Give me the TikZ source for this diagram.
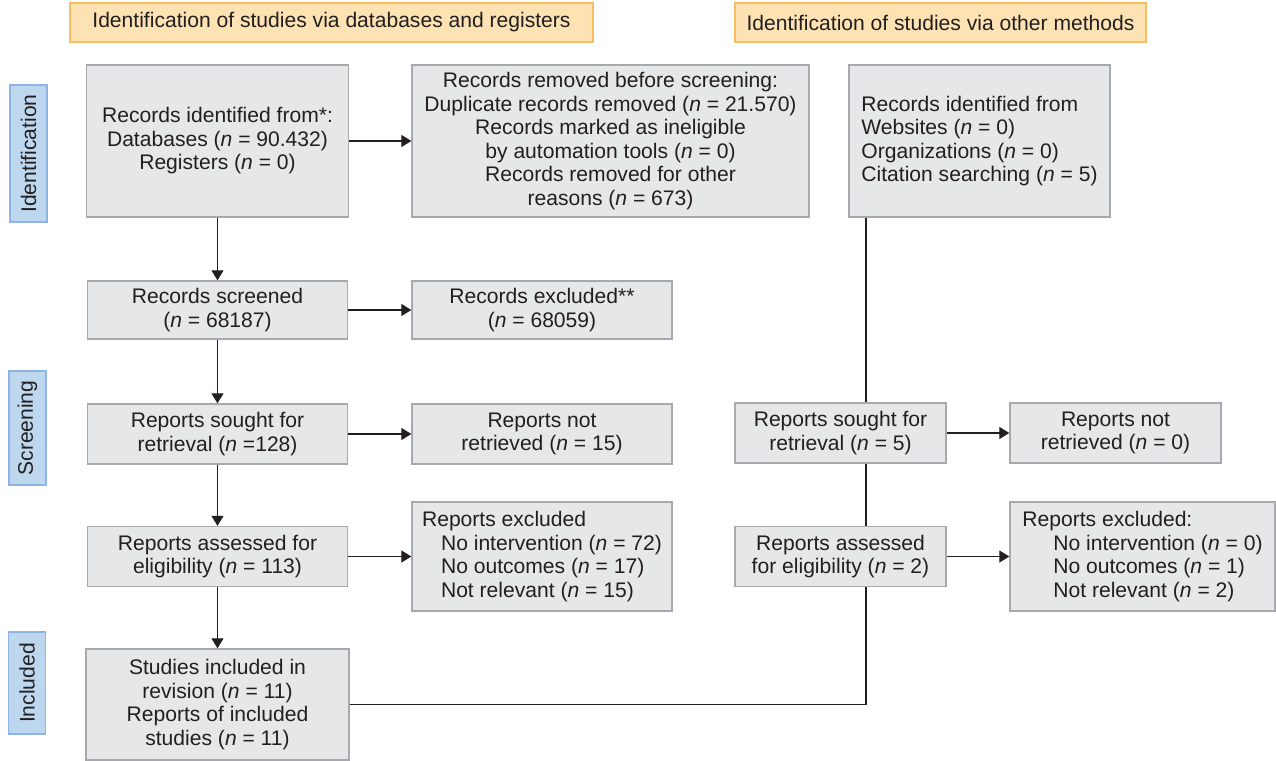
\documentclass[tikz,border=0pt]{standalone}
\usepackage{fontspec}
\setmainfont{Liberation Sans}
\usetikzlibrary{positioning}
\usetikzlibrary{arrows.meta}

\definecolor{boxgray}{HTML}{E6E7E8}
\definecolor{boxline}{HTML}{A7A9AC}
\definecolor{headfill}{HTML}{FDE2B3}
\definecolor{headline}{HTML}{F7BE5E}
\definecolor{sidefill}{HTML}{BDD7EE}
\definecolor{sideline}{HTML}{8DB4E2}
\definecolor{ink}{HTML}{231F20}

\begin{document}
\begin{tikzpicture}[x=0.02cm, y=-0.02cm,
  every node/.style={font=\fontsize{12}{13.4}\selectfont, text=ink},
  box/.style={draw=boxline, fill=boxgray, line width=0.8pt, inner sep=2pt, align=center},
  lbox/.style={box, align=left},
  head/.style={draw=headline, fill=headfill, line width=0.8pt, minimum height=0.78cm},
  side/.style={draw=sideline, fill=sidefill, line width=0.8pt, rotate=90, minimum height=0.74cm},
  arr/.style={draw=ink, line width=0.7pt, -{Triangle[length=0.2cm, width=0.24cm]}},
  link/.style={draw=ink, line width=0.7pt}]

  \useasboundingbox (0,0) rectangle (1276,761);

  % Headers and phase labels
  \node[head, minimum width=10.46cm] (hdb) at (331.5,22.5) {Identification of studies via databases and registers};
  \node[head, minimum width=8.22cm] (hother) at (940.5,22.5) {Identification of studies via other methods};

  \node[side, minimum width=2.74cm] (sident) at (28.5,153.5) {Identification};
  \node[side, minimum width=2.28cm] (sscreen) at (27.5,428) {Screening};
  \node[side, minimum width=2.04cm] (sincl) at (27,683) {Included};

  % Databases and registers
  \node[box, minimum width=5.24cm, minimum height=3.04cm] (ident) at (217.5,141)
    {Records identified from*:\\Databases (\textit{n} = 90.432)\\Registers (\textit{n} = 0)};
  \node[box, minimum width=7.94cm, minimum height=3.04cm] (removed) at (610.5,141)
    {Records removed before screening:\\Duplicate records removed (\textit{n} = 21.570)\\Records marked as ineligible\\by automation tools (\textit{n} = 0)\\Records removed for other\\reasons (\textit{n} = 673)};
  \node[box, minimum width=5.2cm, minimum height=1.16cm] (screened) at (217.5,310)
    {Records screened\\(\textit{n} = 68187)};
  \node[box, minimum width=5.2cm, minimum height=1.16cm] (excluded) at (542,310)
    {Records excluded**\\(\textit{n} = 68059)};
  \node[box, minimum width=5.2cm, minimum height=1.2cm] (sought) at (217.5,434)
    {Reports sought for\\retrieval (\textit{n} =128)};
  \node[box, minimum width=5.2cm, minimum height=1.2cm] (notret) at (542,434)
    {Reports not\\retrieved (\textit{n} = 15)};
  \node[box, minimum width=5.2cm, minimum height=1.2cm] (assessed) at (217.5,556.5)
    {Reports assessed for\\eligibility (\textit{n} = 113)};
  \node[lbox, minimum width=5.2cm, minimum height=2.18cm] (repexcl) at (542,556.5)
    {Reports excluded\\\hspace*{10.8pt}No intervention (\textit{n} = 72)\\\hspace*{10.8pt}No outcomes (\textit{n} = 17)\\\hspace*{10.8pt}Not relevant (\textit{n} = 15)};
  \node[box, minimum width=5.26cm, minimum height=2.22cm] (included) at (217.5,704.5)
    {Studies included in\\revision (\textit{n} = 11)\\Reports of included\\studies (\textit{n} = 11)};

  % Other methods
  \node[lbox, minimum width=5.22cm, minimum height=3.04cm] (other) at (979.5,141)
    {Records identified from\\Websites (\textit{n} = 0)\\Organizations (\textit{n} = 0)\\Citation searching (\textit{n} = 5)};
  \node[box, minimum width=4.22cm, minimum height=1.2cm] (osought) at (840.5,433)
    {Reports sought for\\retrieval (\textit{n} = 5)};
  \node[box, minimum width=4.22cm, minimum height=1.2cm] (onotret) at (1115.5,433)
    {Reports not\\retrieved (\textit{n} = 0)};
  \node[box, minimum width=4.22cm, minimum height=1.2cm] (oassessed) at (840.5,556.5)
    {Reports assessed\\for eligibility (\textit{n} = 2)};
  \node[lbox, minimum width=5.3cm, minimum height=2.18cm] (orepexcl) at (1142.5,556.5)
    {Reports excluded:\\\hspace*{17.6pt}No intervention (\textit{n} = 0)\\\hspace*{17.6pt}No outcomes (\textit{n} = 1)\\\hspace*{17.6pt}Not relevant (\textit{n} = 2)};

  % Arrows
  \draw[arr] (ident) -- (removed);
  \draw[arr] (ident) -- (screened);
  \draw[arr] (screened) -- (excluded);
  \draw[arr] (screened) -- (sought);
  \draw[arr] (sought) -- (notret);
  \draw[arr] (sought) -- (assessed);
  \draw[arr] (assessed) -- (repexcl);
  \draw[arr] (assessed) -- (included);
  \draw[arr] (osought) -- (onotret);
  \draw[arr] (oassessed) -- (orepexcl);

  % Line of the other methods column
  \coordinate (vx) at (866,0);
  \draw[link] (vx |- other.south) -- (vx |- osought.north);
  \draw[link] (vx |- osought.south) -- (vx |- oassessed.north);
  \draw[link] (vx |- oassessed.south) |- (included.east);
\end{tikzpicture}
\end{document}
